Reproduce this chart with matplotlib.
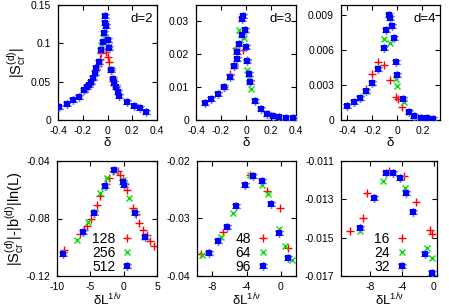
import matplotlib
matplotlib.use("Agg")
import matplotlib.pyplot as plt
from matplotlib.legend_handler import HandlerTuple

plt.rcParams['font.family'] = ['Liberation Sans', 'DejaVu Sans']
plt.rcParams['mathtext.fontset'] = 'custom'
plt.rcParams['mathtext.rm'] = 'Liberation Sans'
plt.rcParams['mathtext.it'] = 'Liberation Sans'

# ---------------- data: top row (|S_cr| vs delta) ----------------
d2_x1 = [-0.19, -0.15, -0.117, -0.09, -0.08, -0.064, -0.05, -0.035, -0.016, 0.0, 0.013, 0.026, 0.043, 0.07]
d2_y1 = [0.039, 0.0457, 0.054, 0.067, 0.071, 0.08, 0.088, 0.092, 0.089, 0.082, 0.075, 0.065, 0.054, 0.043]
d2_x2 = [-0.19, -0.13, -0.104, -0.07, -0.05, -0.032, -0.02, 0.01, 0.03, 0.056, 0.083]
d2_y2 = [0.039, 0.05, 0.061, 0.076, 0.098, 0.112, 0.108, 0.096, 0.067, 0.048, 0.037]
d2_x3 = [-0.39, -0.33, -0.28, -0.23, -0.19, -0.165, -0.15, -0.13, -0.117, -0.104, -0.09, -0.07,
         -0.05, -0.037, -0.03, -0.024, -0.019, -0.015, 0.003, 0.01, 0.03, 0.043, 0.056, 0.07,
         0.083, 0.096, 0.16, 0.216, 0.26, 0.31]
d2_y3 = [0.0174, 0.021, 0.026, 0.0304, 0.039, 0.0426, 0.0457, 0.05, 0.0543, 0.061, 0.0674, 0.076,
         0.091, 0.102, 0.113, 0.126, 0.135, 0.122, 0.104, 0.0935, 0.065, 0.054, 0.048, 0.0426,
         0.037, 0.031, 0.024, 0.018, 0.0152, 0.0109]

d3_x1 = [-0.18, -0.128, -0.096, -0.08, -0.027, 0.005, 0.03]
d3_y1 = [0.0101, 0.014, 0.0165, 0.022, 0.0212, 0.0182, 0.0118]
d3_x2 = [-0.128, -0.096, -0.08, -0.054, -0.04, -0.02, -0.008, 0.01, 0.022, 0.037]
d3_y2 = [0.0131, 0.0165, 0.0212, 0.0273, 0.0262, 0.025, 0.0273, 0.0152, 0.0124, 0.0093]
d3_x3 = [-0.328, -0.28, -0.221, -0.176, -0.128, -0.096, -0.075, -0.07, -0.054, -0.035, -0.035,
         -0.027, -0.008, 0.0, 0.01, 0.027, 0.032, 0.072, 0.12, 0.17, 0.213, 0.26, 0.32, 0.373]
d3_y3 = [0.00506, 0.0063, 0.0078, 0.0099, 0.0131, 0.0164, 0.0187, 0.0207, 0.0232, 0.0258, 0.0308,
         0.0318, 0.0273, 0.0222, 0.018, 0.0139, 0.0116, 0.0058, 0.0032, 0.0018, 0.0012, 0.0008,
         0.0007, 0.0005]

d4_x1 = [-0.253, -0.206, -0.156, -0.108, -0.061, -0.008, 0.003, 0.037]
d4_y1 = [0.00265, 0.00397, 0.00503, 0.00475, 0.00345, 0.00201, 0.0018, 0.0011]
d4_x2 = [-0.3, -0.253, -0.206, -0.156, -0.108, -0.055, -0.01, -0.003, 0.05, 0.09, 0.134]
d4_y2 = [0.00193, 0.00253, 0.00322, 0.0045, 0.00696, 0.0066, 0.0035, 0.00293, 0.00158, 0.00072, 0.00035]
d4_x3 = [-0.403, -0.35, -0.3, -0.253, -0.206, -0.156, -0.108, -0.087, -0.069, -0.055, -0.042,
         -0.029, -0.008, -0.003, 0.045, 0.09, 0.134, 0.187, 0.235, 0.282]
d4_y3 = [0.00121, 0.00158, 0.00193, 0.00253, 0.00322, 0.00437, 0.00624, 0.00777, 0.00906, 0.0088,
         0.00805, 0.0071, 0.00495, 0.00388, 0.00179, 0.00072, 0.00035, 0.0002, 0.00015, 0.0001]

# ---------------- data: bottom row (scaling collapse) ----------------
L2 = ["128", "256", "512"]
c2_x1 = [-9.0, -6.55, -6.0, -5.5, -4.95, -4.05, -3.5, -2.7, -2.15, -1.55, -0.8, -0.5, -0.15, 0.25,
         0.55, 1.45, 1.85, 2.35, 2.85, 3.45, 3.95, 4.5]
c2_y1 = [-0.102, -0.091, -0.088, -0.085, -0.080, -0.0706, -0.064, -0.056, -0.052, -0.047, -0.047,
         -0.050, -0.053, -0.056, -0.060, -0.0725, -0.077, -0.0834, -0.088, -0.0915, -0.0956, -0.099]
c2_x2 = [-6.95, -5.3, -4.3, -3.55, -2.9, -2.55, -1.3, -0.1, 0.05, 0.85, 1.55, 3.2]
c2_y2 = [-0.095, -0.0822, -0.0753, -0.0625, -0.058, -0.052, -0.0468, -0.0535, -0.0551, -0.0655,
         -0.0753, -0.093]
c2_x3 = [-9.05, -6.05, -4.4, -2.8, -1.4, -0.05, 0.1, 1.7, 3.2]
c2_y3 = [-0.105, -0.0892, -0.076, -0.0574, -0.0463, -0.0544, -0.057, -0.0764, -0.093]

L3 = ["48", "64", "96"]
c3_x1 = [-9.31, -6.69, -3.6, -1.66, -0.12, 0.85]
c3_y1 = [-0.0362, -0.0323, -0.0224, -0.0252, -0.0282, -0.0352]
c3_x2 = [-9.2, -7.0, -5.6, -3.6, -2.24, -1.47, -0.2, 0.46, 1.24]
c3_y2 = [-0.0363, -0.0333, -0.0291, -0.0224, -0.0242, -0.0257, -0.0319, -0.0348, -0.0372]
c3_x3 = [-8.31, -7.27, -6.3, -5.22, -4.17, -3.28, -2.24, -1.2, -0.2, 0.85]
c3_y3 = [-0.036, -0.034, -0.0315, -0.0278, -0.0241, -0.0226, -0.0234, -0.0274, -0.0325, -0.0369]

L4 = ["16", "24", "32"]
c4_x1 = [-10.5, -8.9, -8.33, -5.58, -3.75, -2.17, -0.5, -0.17]
c4_y1 = [-0.01464, -0.01399, -0.01265, -0.01151, -0.01178, -0.01316, -0.0146, -0.01481]
c4_x2 = [-9.25, -6.33, -3.63, -0.8, -0.2]
c4_y2 = [-0.01464, -0.01203, -0.01243, -0.01556, -0.01608]
c4_x3 = [-9.25, -7.5, -5.92, -5.08, -4.25, -3.42, -2.58, -1.12, -0.17]
c4_y3 = [-0.01451, -0.01295, -0.01164, -0.01164, -0.0119, -0.01269, -0.01365, -0.01585, -0.01686]

top_ticks_x = [[-0.4, -0.2, 0, 0.2, 0.4], [-0.4, -0.2, 0, 0.2, 0.4], [-0.4, -0.2, 0, 0.2]]
top_ticks_y = [[0, 0.05, 0.1, 0.15], [0, 0.01, 0.02, 0.03], [0, 0.003, 0.006, 0.009]]
top_ticklabels_y = [["0", "0.05", "0.1", "0.15"], ["0", "0.01", "0.02", "0.03"],
                    ["0", "0.003", "0.006", "0.009"]]
bot_ticks_x = [[-10, -5, 0, 5], [-8, -4, 0], [-8, -4, 0]]
bot_ticks_y = [[-0.12, -0.08, -0.04], [-0.04, -0.03, -0.02], [-0.017, -0.015, -0.013, -0.011]]
bot_ticklabels_y = [["-0.12", "-0.08", "-0.04"], ["-0.04", "-0.03", "-0.02"],
                    ["-0.017", "-0.015", "-0.013", "-0.011"]]

RED, GREEN, BLUE = '#ff0000', '#00e000', '#0000ff'
W, H = 449, 307
fig = plt.figure(figsize=(W / 100, H / 100), dpi=100)


def ax_at(l, r, t, b):
    return fig.add_axes([l / W, 1 - b / H, (r - l) / W, (b - t) / H])


def blue(ax, x, y):
    a, = ax.plot(x, y, ls='none', marker=(6, 2, 0), ms=6.5, mew=1.0, color='#7878ff', zorder=3)
    b, = ax.plot(x, y, ls='none', marker='s', ms=4.0, mew=0, color=BLUE, zorder=4)
    return (a, b)


def style(ax):
    ax.tick_params(direction='in', top=True, right=True, length=3.5, width=0.8,
                   labelsize=7.5, pad=4)
    ax.tick_params(axis='y', pad=5)
    for s in ax.spines.values():
        s.set_linewidth(0.9)


tops = [(58, 157), (196, 296), (341, 440)]
top_data = [(d2_x1, d2_y1, d2_x2, d2_y2, d2_x3, d2_y3),
            (d3_x1, d3_y1, d3_x2, d3_y2, d3_x3, d3_y3),
            (d4_x1, d4_y1, d4_x2, d4_y2, d4_x3, d4_y3)]
top_xlim = [(-0.4, 0.4), (-0.4, 0.4), (-0.45, 0.34)]
top_ylim = [(0, 0.15), (0, 0.035), (0, 0.0099)]
dlabels = ["d=2", "d=3", "d=4"]

for i, (l, r) in enumerate(tops):
    ax = ax_at(l, r, 5, 120)
    x1, y1, x2, y2, x3, y3 = top_data[i]
    ax.plot(x1, y1, ls='none', marker='+', ms=5.5, mew=1.0, color=RED, zorder=2)
    ax.plot(x2, y2, ls='none', marker='x', ms=4.5, mew=1.0, color=GREEN, zorder=2)
    blue(ax, x3, y3)
    ax.set_xlim(*top_xlim[i])
    ax.set_ylim(*top_ylim[i])
    ax.set_xticks(top_ticks_x[i])
    ax.set_xticklabels([f"{v:g}" for v in top_ticks_x[i]])
    ax.set_yticks(top_ticks_y[i])
    ax.set_yticklabels(top_ticklabels_y[i])
    style(ax)
    ax.text(0.96, 0.875, dlabels[i], transform=ax.transAxes, ha='right', va='center', fontsize=9.5)
    ax.set_xlabel(r'$\delta$', fontsize=9.5, labelpad=0)
    if i == 0:
        ax.set_ylabel(r'$|\mathrm{S}_{\mathrm{cr}}^{(d)}|$', fontsize=10.5, labelpad=2)

bots = [(57, 157), (197, 296), (341, 437)]
bot_data = [(c2_x1, c2_y1, c2_x2, c2_y2, c2_x3, c2_y3, L2),
            (c3_x1, c3_y1, c3_x2, c3_y2, c3_x3, c3_y3, L3),
            (c4_x1, c4_y1, c4_x2, c4_y2, c4_x3, c4_y3, L4)]
bot_xlim = [(-10, 5), (-9.74, 1.74), (-11.6, 0.4)]
bot_ylim = [(-0.12, -0.04), (-0.04, -0.02), (-0.017, -0.011)]
leg_anchor = [(0.56, 0.2), (0.56, 0.2), (0.52, 0.2)]

for i, (l, r) in enumerate(bots):
    ax = ax_at(l, r, 161, 276)
    x1, y1, x2, y2, x3, y3, labs = bot_data[i]
    h1, = ax.plot(x1, y1, ls='none', marker='+', ms=5.5, mew=1.0, color=RED, zorder=2)
    h2, = ax.plot(x2, y2, ls='none', marker='x', ms=4.5, mew=1.0, color=GREEN, zorder=2)
    h3 = blue(ax, x3, y3)
    ax.set_xlim(*bot_xlim[i])
    ax.set_ylim(*bot_ylim[i])
    ax.set_xticks(bot_ticks_x[i])
    ax.set_xticklabels([f"{v:g}" for v in bot_ticks_x[i]])
    ax.set_yticks(bot_ticks_y[i])
    ax.set_yticklabels(bot_ticklabels_y[i])
    style(ax)
    ax.set_xlabel(r'$\delta \mathrm{L}^{1/\nu}$', fontsize=9.5, labelpad=0)
    if i == 0:
        ax.set_ylabel(r'$|\mathrm{S}_{\mathrm{cr}}^{(d)}|$-$|\mathrm{b}^{(d)}|\mathrm{ln(L)}$',
                      fontsize=10.5, labelpad=0)
    ax.legend([h1, h2, h3], labs, handler_map={tuple: HandlerTuple(ndivide=1)},
              loc='center', bbox_to_anchor=leg_anchor[i], frameon=False, markerfirst=False,
              fontsize=10, handlelength=0.9, handletextpad=0.4, labelspacing=0.0,
              borderpad=0, borderaxespad=0)

fig.savefig('out.png', dpi=100)
